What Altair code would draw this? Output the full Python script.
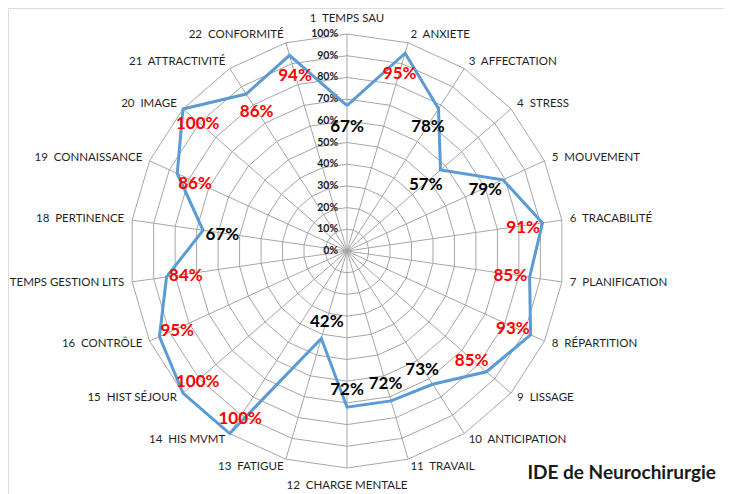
import altair as alt
import pandas as pd
import numpy as np

# ---- data ----
categories = ["TEMPS SAU", "ANXIETE", "AFFECTATION", "STRESS", "MOUVEMENT",
              "TRACABILITÉ", "PLANIFICATION", "RÉPARTITION", "LISSAGE",
              "ANTICIPATION", "TRAVAIL", "CHARGE MENTALE", "FATIGUE",
              "HIS MVMT", "HIST SÉJOUR", "CONTRÔLE", "TEMPS GESTION LITS",
              "PERTINENCE", "CONNAISSANCE", "IMAGE", "ATTRACTIVITÉ", "CONFORMITÉ"]
values = [67, 95, 78, 57, 79, 91, 85, 93, 85, 73, 72, 72, 42,
          100, 100, 95, 84, 67, 86, 100, 86, 94]
tick_levels = [0, 10, 20, 30, 40, 50, 60, 70, 80, 90, 100]
tick_labels = [f"{t}%" for t in tick_levels]
title_text = "IDE de Neurochirurgie"

# ---- layout constants ----
N = len(categories)
LABEL_R = 103.7      # radius (in % units) where category labels sit
LABEL_R_TB = 105.5
PCT_OFFSET = 9       # percent labels sit a bit inside the point
W, H = 716, 486
XDOM = [-156.2, 173.7]
YDOM = [-112.0, 112.0]
FONT = "Lato"

ang = np.arange(N) * 2 * np.pi / N

def pol(r, a):
    return r * np.sin(a), r * np.cos(a)

# grid polygons
grid_rows = []
for lv in tick_levels[1:]:
    for k in range(N + 1):
        x, y = pol(lv, ang[k % N])
        grid_rows.append({"level": lv, "k": k, "x": x, "y": y})
grid_df = pd.DataFrame(grid_rows)

# spokes
spoke_rows = []
for k in range(N):
    x, y = pol(100, ang[k])
    spoke_rows.append({"x0": 0.0, "y0": 0.0, "x": x, "y": y})
spoke_df = pd.DataFrame(spoke_rows)

# data polygon
line_rows = []
for k in range(N + 1):
    x, y = pol(values[k % N], ang[k % N])
    line_rows.append({"k": k, "x": x, "y": y})
line_df = pd.DataFrame(line_rows)

# percent labels
pct_rows = []
for k in range(N):
    x, y = pol(values[k] - PCT_OFFSET, ang[k])
    pct_rows.append({"x": x, "y": y, "txt": f"{values[k]}%",
                     "hi": "hi" if values[k] >= 80 else "lo"})
pct_df = pd.DataFrame(pct_rows)

# category labels
cat_rows = []
for k in range(N):
    deg = np.degrees(ang[k])
    if abs(deg) < 1:
        pos, r = "top", LABEL_R_TB
    elif abs(deg - 180) < 1:
        pos, r = "bottom", LABEL_R_TB
    elif deg < 180:
        pos, r = "right", LABEL_R
    else:
        pos, r = "left", LABEL_R
    x, y = pol(r, ang[k])
    cat_rows.append({"x": x, "y": y, "pos": pos,
                     "txt": f"{k + 1}\u00a0\u00a0{categories[k]}"})
cat_df = pd.DataFrame(cat_rows)

tick_df = pd.DataFrame({"x": [0.0] * len(tick_levels), "y": tick_levels,
                        "txt": tick_labels})

xs = alt.Scale(domain=XDOM, nice=False, zero=False)
ys = alt.Scale(domain=YDOM, nice=False, zero=False)
X = alt.X("x:Q", scale=xs, axis=None)
Y = alt.Y("y:Q", scale=ys, axis=None)

grid = alt.Chart(grid_df).mark_line(color="#A6A6A6", strokeWidth=1).encode(
    x=X, y=Y, detail="level:N", order="k:Q")

spokes = alt.Chart(spoke_df).mark_rule(color="#A6A6A6", strokeWidth=1).encode(
    x=alt.X("x0:Q", scale=xs, axis=None), y=alt.Y("y0:Q", scale=ys, axis=None),
    x2="x:Q", y2="y:Q")

ticks = alt.Chart(tick_df).mark_text(
    align="right", baseline="middle", dx=-9, font=FONT, fontSize=10.5,
    fontWeight="bold", color="#1a1a1a").encode(x=X, y=Y, text="txt:N")

line = alt.Chart(line_df).mark_line(color="#5B9BD5", strokeWidth=3,
                                    strokeJoin="miter").encode(
    x=X, y=Y, order="k:Q")

pct = alt.Chart(pct_df).mark_text(
    align="center", baseline="middle", font=FONT, fontSize=17, dy=2,
    fontWeight="bold").encode(
    x=X, y=Y, text="txt:N",
    color=alt.Color("hi:N", scale=alt.Scale(domain=["hi", "lo"],
                                             range=["#FF0000", "#000000"]),
                    legend=None))

def cat_layer(pos, align, baseline):
    return alt.Chart(cat_df).transform_filter(
        alt.datum.pos == pos).mark_text(
        align=align, baseline=baseline, font=FONT, fontSize=11.5,
        color="#1f1f1f").encode(x=X, y=Y, text="txt:N")

cats = (cat_layer("right", "left", "middle") +
        cat_layer("left", "right", "middle") +
        cat_layer("top", "center", "alphabetic") +
        cat_layer("bottom", "center", "top"))

chart = alt.layer(grid, spokes, ticks, line, pct, cats).properties(
    width=W, height=H,
    autosize=alt.AutoSizeParams(type="none"),
    padding=0,
    title=alt.TitleParams(title_text, orient="bottom", anchor="end",
                          frame="group", offset=-30, dx=-8,
                          font=FONT, fontSize=19, fontWeight="bold",
                          color="#1a1a1a"),
).configure_view(strokeWidth=0).configure(background="white")

chart.save("out.html", embed_options={"renderer": "svg", "actions": False})
